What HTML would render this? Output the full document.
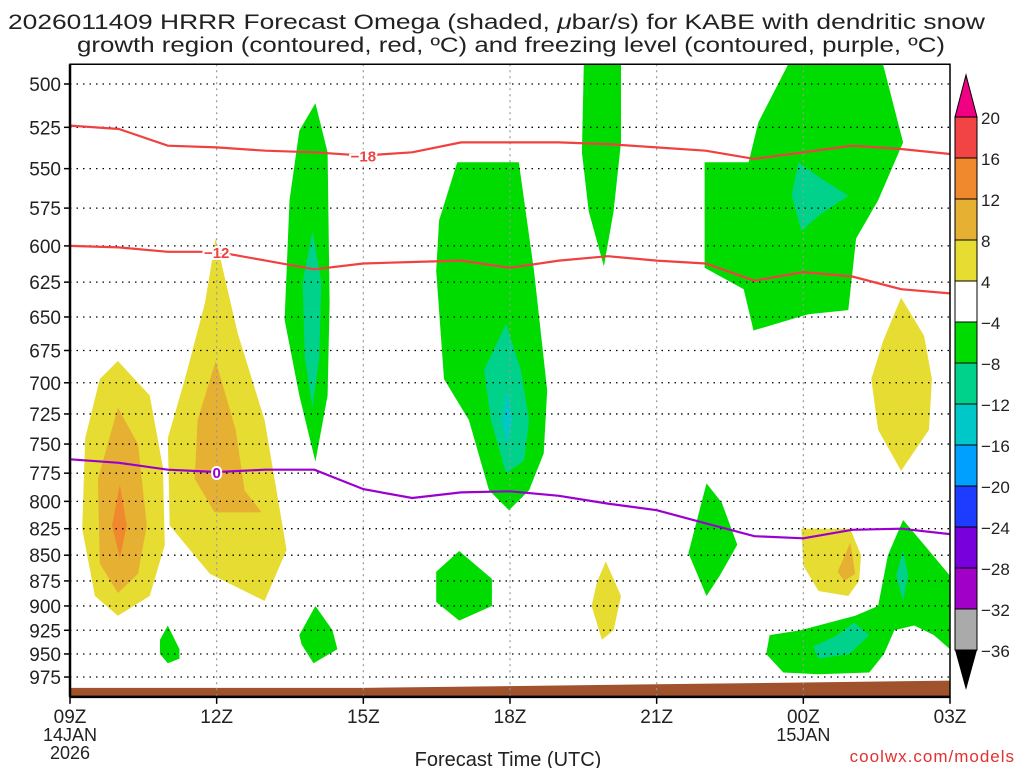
<!DOCTYPE html>
<html><head><meta charset="utf-8"><style>
html,body{margin:0;padding:0;background:#fff;}
svg{display:block;font-family:"Liberation Sans",sans-serif;}
</style></head><body>
<svg id="chart" width="1024" height="768" viewBox="0 0 1024 768" xmlns="http://www.w3.org/2000/svg">
<text x="8" y="29" font-size="21" textLength="977" lengthAdjust="spacingAndGlyphs" fill="#222">2026011409 HRRR Forecast Omega (shaded, <tspan font-style="italic">μ</tspan>bar/s) for KABE with dendritic snow</text>
<text x="77" y="52" font-size="21" textLength="868" lengthAdjust="spacingAndGlyphs" fill="#222">growth region (contoured, red, ºC) and freezing level (contoured, purple, ºC)</text>
<text x="508" y="766" font-size="20" text-anchor="middle" fill="#222">Forecast Time (UTC)</text>
<text x="1015" y="762" font-size="17" text-anchor="end" fill="#e03030" letter-spacing="1">coolwx.com/models</text>
</svg>
<script>
const xTicks=[0,3,6,9,12,15,18];
const xTickLabels=["09Z","12Z","15Z","18Z","21Z","00Z","03Z"];
const yTicks=[500,525,550,575,600,625,650,675,700,725,750,775,800,825,850,875,900,925,950,975];
const cbLevels=[20,16,12,8,4,-4,-8,-12,-16,-20,-24,-28,-32,-36];
const cbColors=["#f24444","#f0882e","#e6b033","#e6dc32","#ffffff","#00dc00","#00d28c","#00c8c8","#00a0ff","#1e3cff","#7800dc","#a000c8","#aaaaaa"];
const yellowA=[[0.98,683],[1.63,710],[1.9,770],[1.94,840],[1.63,890],[0.98,910],[0.51,890],[0.25,825],[0.31,745],[0.61,697]];
const yellowB=[[2.98,595],[3.43,662],[3.98,730],[4.43,845],[3.98,895],[2.86,868],[2.04,822],[2.0,745],[2.35,697],[2.76,640]];
const orangeA=[[0.98,720],[1.39,750],[1.57,822],[1.39,868],[0.98,887],[0.61,858],[0.57,780]];
const orangeB=[[2.98,683],[3.39,738],[3.57,790],[3.92,810],[2.96,810],[2.55,780],[2.61,730]];
const darkOrangeA=[[1.02,785],[1.16,822],[1.02,853],[0.86,822]];
const green14=[[5.02,511],[5.27,540],[5.31,640],[5.27,710],[5.02,765],[4.69,710],[4.39,652],[4.49,570],[4.69,527]];
const teal14=[[4.96,590],[5.14,625],[5.1,680],[4.96,720],[4.8,680],[4.76,625]];
const green18=[[7.92,546],[9.18,546],[9.49,617],[9.76,706],[9.69,758],[9.39,790],[8.98,808],[8.57,790],[8.16,730],[7.65,697],[7.49,617],[7.55,583]];
const teal18=[[8.92,655],[9.22,690],[9.39,730],[9.29,764],[8.92,775],[8.61,730],[8.47,690]];
const cyan18=[[8.94,706],[9.04,730],[8.94,750],[8.84,730]];
const green20=[[10.51,489],[11.27,489],[11.27,534],[11.12,577],[10.92,614],[10.61,577],[10.47,540]];
const greenTopRight=[[12.98,546],[13.88,546],[14.08,522],[14.69,489],[16.63,489],[17.04,534],[16.53,570],[16.08,595],[15.92,645],[15.1,648],[13.98,660],[13.78,630],[12.98,615]];
const tealTopRight=[[14.9,546],[15.31,555],[15.92,567],[15.31,580],[14.96,590],[14.76,567]];
const green22=[[13.02,784],[13.33,801],[13.65,840],[13.29,870],[13.02,890],[12.65,848]];
const green17=[[7.96,846],[8.63,873],[8.63,900],[7.96,915],[7.49,896],[7.49,866]];
const green11=[[2.0,920],[2.24,945],[2.24,955],[2.0,960],[1.84,950],[1.84,935]];
const green14low=[[5.02,900],[5.37,925],[5.47,945],[4.98,960],[4.74,940],[4.69,930]];
const yellow20=[[10.96,856],[11.27,890],[11.12,925],[10.88,935],[10.67,900],[10.78,876]];
const yellowRight=[[17.0,636],[17.47,664],[17.63,697],[17.57,738],[17.0,773],[16.53,738],[16.39,697],[16.63,668]];
const yellow01=[[14.96,825],[15.96,825],[16.18,850],[16.14,875],[15.92,890],[15.31,885],[15.0,860]];
const orange01=[[15.96,838],[16.06,868],[15.84,875],[15.7,866]];
const greenLowRight=[[14.31,930],[14.94,925],[16.06,910],[16.53,900],[16.73,850],[17.04,817],[17.47,840],[18,870],[18,945],[17.67,930],[17.27,920],[16.86,925],[16.65,950],[16.35,970],[15.31,972],[14.59,970],[14.24,950]];
const tealLowRight=[[16.04,917],[16.35,930],[15.94,950],[15.31,955],[15.2,942],[15.63,932]];
const tealSmall03=[[17.04,845],[17.14,870],[17.04,895],[16.9,870]];
const shaded=[
 ["yellow-a",3,yellowA],["yellow-b",3,yellowB],["orange-a",2,orangeA],["orange-b",2,orangeB],["dark-orange-a",1,darkOrangeA],
 ["green-14z",5,green14],["teal-14z",6,teal14],["green-18z",5,green18],["teal-18z",6,teal18],["cyan-18z",7,cyan18],
 ["green-20z",5,green20],["green-top-right",5,greenTopRight],["teal-top-right",6,tealTopRight],["green-22z",5,green22],
 ["green-17z-low",5,green17],["green-11z-low",5,green11],["green-14z-low",5,green14low],["yellow-20z-low",3,yellow20],
 ["yellow-right",3,yellowRight],["yellow-01z",3,yellow01],["orange-01z",2,orange01],["green-low-right",5,greenLowRight],
 ["teal-low-right",6,tealLowRight],["teal-03z",6,tealSmall03]];
const lineHours=[0,1,2,3,4,5,6,7,8,9,10,11,12,13,14,15,16,17,18];
const minus18=[524,526,536,537,539,540,542,540,534,534,534,535,537,539,544,540,536,538,541];
const minus12=[600,601,604,604,610,616,612,611,610,615,610,607,610,612,624,618,621,630,633];
const freezing=[763,766,772,774,772,772,789,797,792,791,795,802,808,820,832,834,826,825,830];
const groundHours=[0,6,9,12,15,18];
const groundP=[987,987,985,983,981,979];

const X0=70,X1=950,PTOP=489,PBOT=997;
const sx=h=>X0+(X1-X0)*h/18;
const sy=p=>84+888*Math.log(p/500);
const YT=sy(PTOP),YB=sy(PBOT);
const svg=document.getElementById('chart');
const NS="http://www.w3.org/2000/svg";
function mk(tag,attrs,parent){const e=document.createElementNS(NS,tag);for(const k in attrs)e.setAttribute(k,attrs[k]);(parent||svg).appendChild(e);return e;}
const clip=mk('clipPath',{id:'pc'});mk('rect',{x:X0,y:YT,width:X1-X0,height:YB-YT},clip);
const g=mk('g',{'clip-path':'url(#pc)'});


shaded.forEach(s=>{
 const pts=s[2].map(q=>sx(q[0]).toFixed(1)+','+sy(q[1]).toFixed(1)).join(' ');
 const e=mk('polygon',{points:pts,fill:cbColors[s[1]]},g);
 
 
});
{let d='M'+sx(groundHours[0])+','+YB;groundHours.forEach((h,i)=>d+=' L'+sx(h)+','+sy(groundP[i]));d+=' L'+sx(18)+','+YB+'Z';
const e=mk('path',{d:d,fill:'#a0522d'},g);

}
yTicks.forEach(p=>{const e=mk('line',{x1:X0,x2:X1,y1:sy(p),y2:sy(p),stroke:'#000','stroke-width':1.3,'stroke-dasharray':'1.5,5'},g);

});
xTicks.forEach(h=>{const e=mk('line',{x1:sx(h),x2:sx(h),y1:YT,y2:YB,stroke:'#999','stroke-width':1.2,'stroke-dasharray':'2,4'},g);

});
function line(arr,color,name){const d=lineHours.map((h,i)=>(i?'L':'M')+sx(h).toFixed(1)+','+sy(arr[i]).toFixed(1)).join(' ');
const e=mk('path',{d:d,fill:'none',stroke:color,'stroke-width':2.2},g);

}
line(minus18,'#f04040','contour-minus-18');
line(minus12,'#f04040','contour-minus-12');
line(freezing,'#9a00d0','freezing-level');
function lab(t,h,arr,idx,color,name){const x=sx(h),y=sy(arr[idx]);
const e=mk('text',{x:x,y:y+6,'font-size':15,'font-weight':'bold','text-anchor':'middle',fill:color,stroke:'#fff','stroke-width':4,'paint-order':'stroke'},g);e.textContent=t;

}
lab('−18',6,minus18,6,'#f04040','label-minus-18');
lab('−12',3,minus12,3,'#f04040','label-minus-12');
lab('0',3,freezing,3,'#9a00d0','label-zero');
mk('rect',{x:X0,y:YT,width:X1-X0,height:YB-YT,fill:'none',stroke:'#000','stroke-width':1.5});
mk('line',{x1:X0,x2:X0,y1:YT,y2:YB,stroke:'#000','stroke-width':2.5});
mk('line',{x1:X0,x2:X1,y1:YB,y2:YB,stroke:'#000','stroke-width':2.5});
yTicks.forEach(p=>{mk('line',{x1:X0-6,x2:X0,y1:sy(p),y2:sy(p),stroke:'#000','stroke-width':1.5});
const e=mk('text',{x:61,y:sy(p)+7,'font-size':19,'text-anchor':'end',fill:'#222'});e.textContent=p;

});
xTicks.forEach((h,i)=>{mk('line',{x1:sx(h),x2:sx(h),y1:YB,y2:YB+7,stroke:'#000','stroke-width':1.5});
const e=mk('text',{x:sx(h),y:723,'font-size':19,'text-anchor':'middle',fill:'#222'});e.textContent=xTickLabels[i];

});
[["14JAN",0,741],["2026",0,759],["15JAN",15,741]].forEach(a=>{const e=mk('text',{x:sx(a[1]),y:a[2],'font-size':18,'text-anchor':'middle',fill:'#222'});e.textContent=a[0];

});
const CBX=955,CBW=22,CBT=117,CBH=41;
const cbg=mk('g',{});


mk('polygon',{points:`${CBX},${CBT} ${CBX+CBW},${CBT} ${CBX+CBW/2},${CBT-42}`,fill:'#f00082',stroke:'#000','stroke-width':1},cbg);
cbColors.forEach((c,i)=>mk('rect',{x:CBX,y:CBT+i*CBH,width:CBW,height:CBH,fill:c,stroke:'#000','stroke-width':1},cbg));
const cbB=CBT+cbColors.length*CBH;
mk('polygon',{points:`${CBX},${cbB} ${CBX+CBW},${cbB} ${CBX+CBW/2},${cbB+40}`,fill:'#000'},cbg);
cbLevels.forEach((v,i)=>{const e=mk('text',{x:981,y:CBT+i*CBH+7,'font-size':17,fill:'#222'},cbg);e.textContent=v<0?'−'+(-v):v;

});
</script>
</body></html>
